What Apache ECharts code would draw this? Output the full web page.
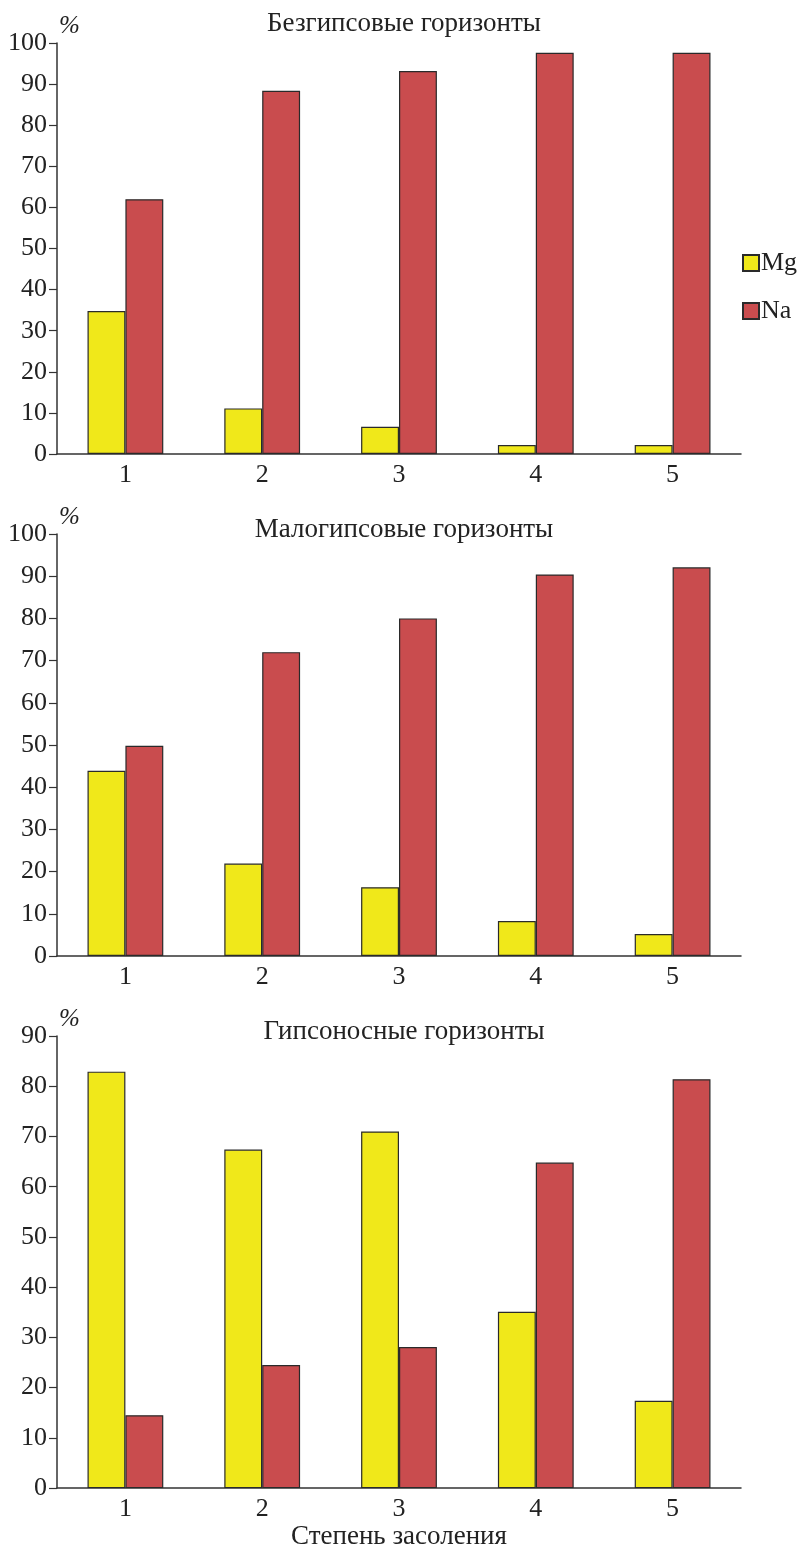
<!DOCTYPE html>
<html>
<head>
<meta charset="utf-8">
<script src="https://cdn.jsdelivr.net/npm/echarts@6/dist/echarts.min.js"></script>
<style>
html,body{margin:0;padding:0;background:#fff;}
#chart{width:803px;height:1551px;}
</style>
</head>
<body>
<div id="chart"></div>
<script>
const categories = ['1', '2', '3', '4', '5'];
const titles = ['Безгипсовые горизонты', 'Малогипсовые горизонты', 'Гипсоносные горизонты'];
const seriesNames = ['Mg', 'Na'];
const mgPanel1 = [34.8, 11.1, 6.6, 2.2, 2.2];
const naPanel1 = [62.0, 88.4, 93.2, 97.6, 97.6];
const mgPanel2 = [43.9, 21.9, 16.3, 8.3, 5.2];
const naPanel2 = [49.8, 72.0, 80.0, 90.4, 92.1];
const mgPanel3 = [82.9, 67.4, 71.0, 35.1, 17.4];
const naPanel3 = [14.5, 24.5, 28.1, 64.8, 81.4];
const yMax = [100, 100, 90];
const xAxisName = 'Степень засоления';
const yAxisName = '%';

const FONT = '"Liberation Serif", "DejaVu Serif", serif';
const TXT = '#222';
const AX = '#333';
const COLORS = ['#F0E81A', '#C94C4E'];

const grids = [
  {left: 57, right: 62, top: 43, height: 411},
  {left: 57, right: 62, top: 534, height: 422},
  {left: 57, right: 62, top: 1036, bottom: 59}
];
const titleTops = [5, 511, 1013];
const panels = [[mgPanel1, naPanel1], [mgPanel2, naPanel2], [mgPanel3, naPanel3]];

const option = {
  backgroundColor: '#fff',
  animation: false,
  textStyle: {fontFamily: FONT, color: TXT},
  title: titles.map((t, i) => ({
    text: t, left: 399, top: titleTops[i], textAlign: 'center',
    textStyle: {fontFamily: FONT, fontSize: 27, fontWeight: 'normal', color: TXT}
  })),
  legend: {
    data: seriesNames, orient: 'vertical', left: 737, top: 245,
    itemWidth: 16, itemHeight: 16, itemGap: 22, icon: 'rect',
    textStyle: {fontFamily: FONT, fontSize: 26, color: TXT, padding: [0, 0, 0, -3]}
  },
  grid: grids,
  xAxis: grids.map((g, i) => ({
    type: 'category', gridIndex: i, data: categories, boundaryGap: true,
    name: i === 2 ? xAxisName : '', nameLocation: 'middle', nameGap: 30,
    nameTextStyle: {fontFamily: FONT, fontSize: 27, color: TXT},
    axisLine: {lineStyle: {color: AX, width: 1.5}},
    axisTick: {show: false},
    axisLabel: {fontFamily: FONT, fontSize: 26, color: TXT, margin: 8}
  })),
  yAxis: grids.map((g, i) => ({
    type: 'value', gridIndex: i, min: 0, max: yMax[i], interval: 10,
    name: yAxisName, nameLocation: 'end', nameGap: 4,
    nameTextStyle: {fontFamily: FONT, fontSize: 25, fontStyle: 'italic', color: TXT, align: 'left', padding: [0, 0, 0, 2]},
    axisLine: {show: true, lineStyle: {color: AX, width: 1.5}},
    axisTick: {show: true, inside: false, length: 8, lineStyle: {color: AX, width: 1.2}},
    axisLabel: {fontFamily: FONT, fontSize: 26, color: TXT, margin: 10},
    splitLine: {show: false}
  })),
  series: []
};

panels.forEach((p, i) => {
  p.forEach((vals, k) => {
    option.series.push({
      type: 'bar', name: seriesNames[k], xAxisIndex: i, yAxisIndex: i,
      data: vals, barWidth: '27.7%', barGap: '0%',
      itemStyle: {color: COLORS[k], borderColor: '#2a2a2a', borderWidth: 1.2}
    });
  });
});

const chart = echarts.init(document.getElementById('chart'), null, {renderer: 'canvas'});
chart.setOption(option);
</script>
</body>
</html>
